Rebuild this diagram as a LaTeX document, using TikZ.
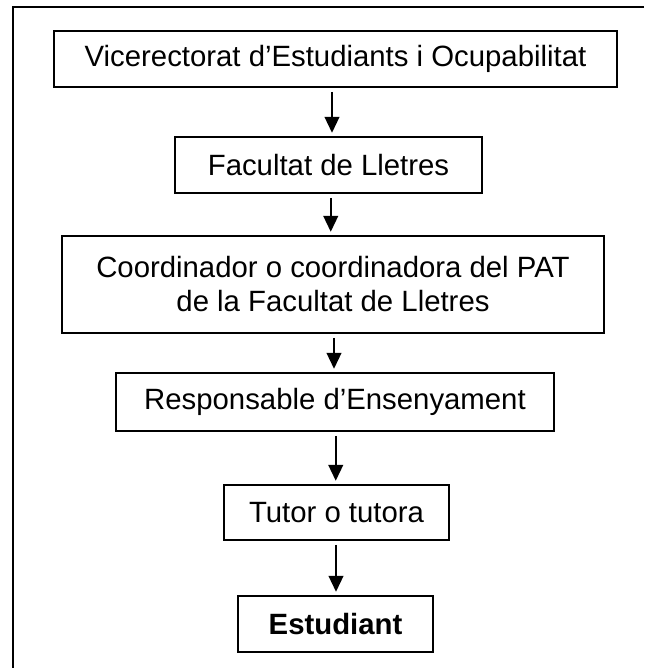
\documentclass[tikz,border=0pt]{standalone}
\usepackage{fontspec}
\setmainfont{Liberation Sans}
\usetikzlibrary{calc,arrows.meta}
\tikzset{
  box/.style={draw=black, line width=1.3pt, fill=white, inner sep=0pt, align=center,
    font=\fontsize{22}{25.5}\selectfont},
  arr/.style={line width=1.6pt, -{Triangle[length=12pt,width=11pt]}, shorten <=3pt, shorten >=2.5pt},
  frame/.style={line width=2pt}
}
\begin{document}
\begin{tikzpicture}[x=0.75pt,y=0.75pt]
\useasboundingbox (0,-668) rectangle (644,0);
\draw[frame] (644,-7) -- (13,-7) -- (13,-668);
\node[box, minimum width=422.25pt, minimum height=42pt] (b1) at (335.5,-59) {Vicerectorat d’Estudiants i Ocupabilitat};
\node[box, minimum width=230.25pt, minimum height=42pt] (b2) at (328.5,-165) {Facultat de Lletres};
\node[box, minimum width=406.5pt, minimum height=72.75pt] (b3) at (333,-284.5) {Coordinador o coordinadora del PAT\\de la Facultat de Lletres};
\node[box, minimum width=328.5pt, minimum height=43.5pt] (b4) at (335,-402) {Responsable d’Ensenyament};
\node[box, minimum width=168.75pt, minimum height=41.25pt] (b5) at (336.5,-512.5) {Tutor o tutora};
\node[box, minimum width=146.25pt, minimum height=42pt] (b6) at (335.5,-624) {\textbf{Estudiant}};
\path ($(b1.south)!0.5!(b2.north)$) coordinate (m12)
      ($(b2.south)!0.5!(b3.north)$) coordinate (m23)
      ($(b3.south)!0.5!(b4.north)$) coordinate (m34)
      ($(b4.south)!0.5!(b5.north)$) coordinate (m45)
      ($(b5.south)!0.5!(b6.north)$) coordinate (m56);
\draw[arr] (m12 |- b1.south) -- (m12 |- b2.north);
\draw[arr] (m23 |- b2.south) -- (m23 |- b3.north);
\draw[arr] (m34 |- b3.south) -- (m34 |- b4.north);
\draw[arr] (m45 |- b4.south) -- (m45 |- b5.north);
\draw[arr] (m56 |- b5.south) -- (m56 |- b6.north);
\end{tikzpicture}
\end{document}
